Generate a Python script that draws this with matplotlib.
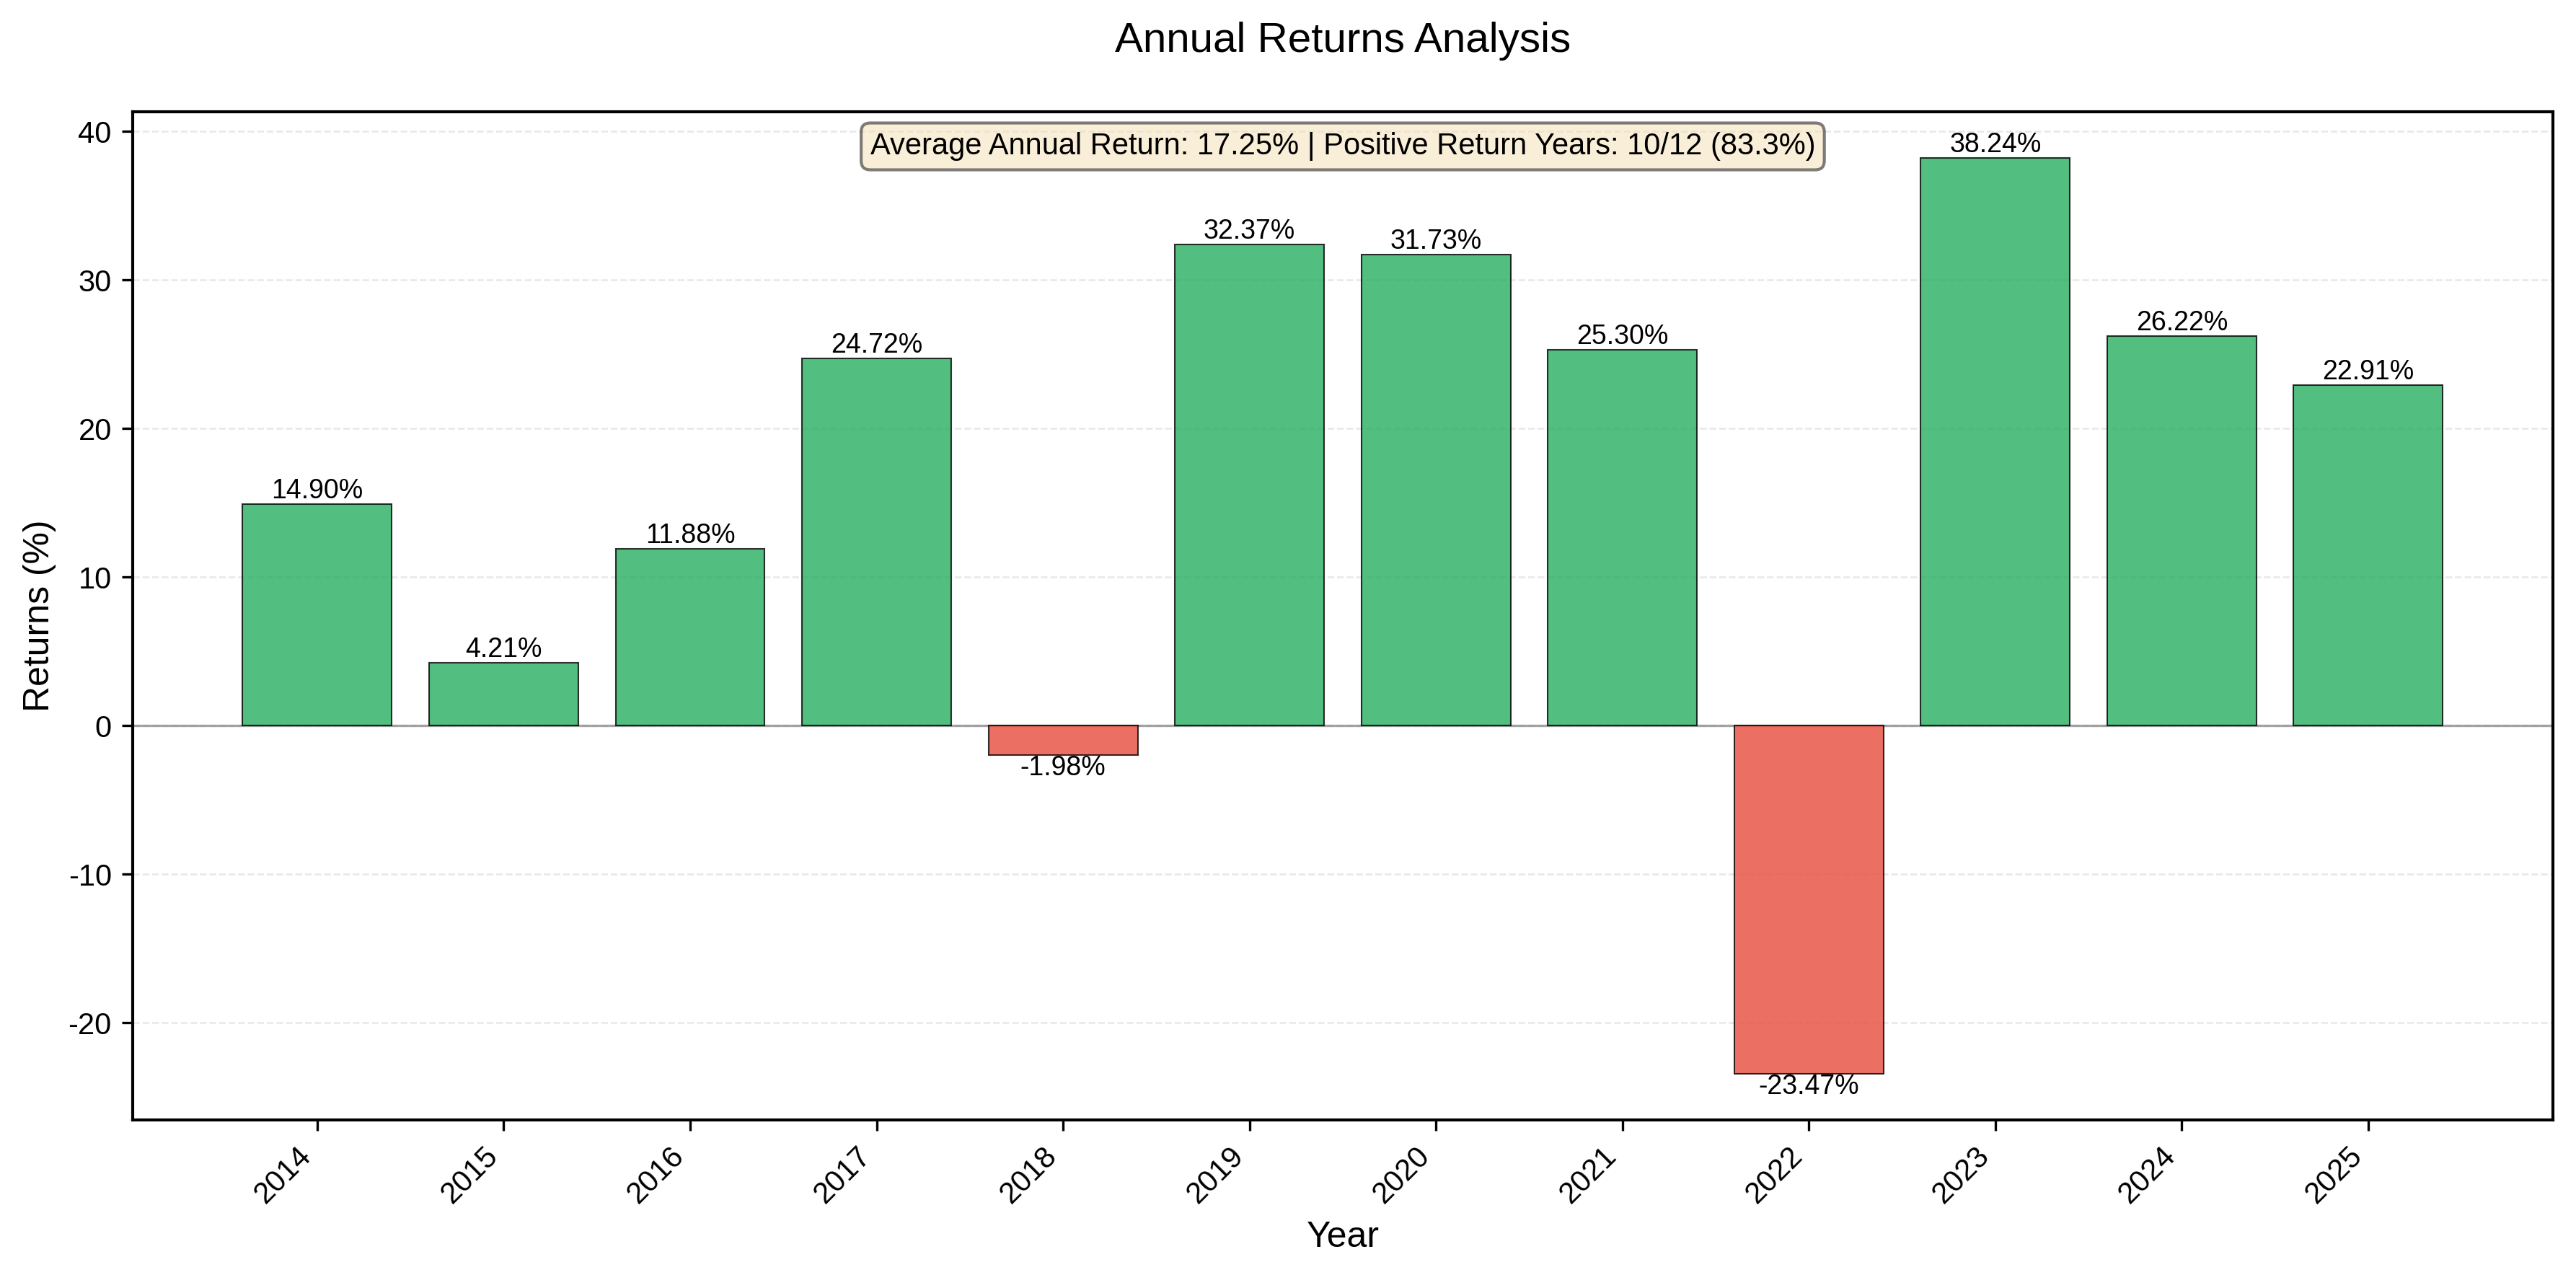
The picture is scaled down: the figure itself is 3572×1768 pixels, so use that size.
import matplotlib
matplotlib.use("Agg")
import matplotlib.pyplot as plt

plt.rcParams["font.family"] = ["Liberation Sans", "DejaVu Sans"]
plt.rcParams["axes.unicode_minus"] = False

years = ["2014", "2015", "2016", "2017", "2018", "2019",
         "2020", "2021", "2022", "2023", "2024", "2025"]
returns = [14.90, 4.21, 11.88, 24.72, -1.98, 32.37,
           31.73, 25.30, -23.47, 38.24, 26.22, 22.91]

avg = sum(returns) / len(returns)
n_pos = sum(1 for r in returns if r > 0)

fig = plt.figure(figsize=(3572 / 300, 1768 / 300), dpi=300)
ax = fig.add_axes([0.0515, 0.1216, 0.9395, 0.7907])

x = list(range(len(years)))
colors = ["#27ae60" if r >= 0 else "#e74c3c" for r in returns]
bars = ax.bar(x, returns, width=0.8, color=colors, alpha=0.8,
              edgecolor="black", linewidth=0.5, zorder=3)

for b, r in zip(bars, returns):
    cx = b.get_x() + b.get_width() / 2
    va = "bottom" if r >= 0 else "top"
    ax.text(cx, r, f"{r:.2f}%", ha="center", va=va, fontsize=9, zorder=4)

ax.axhline(0, color="gray", linewidth=0.8, alpha=0.7, zorder=2)
ax.grid(axis="y", linestyle="--", alpha=0.3, linewidth=0.6, zorder=0)
ax.set_axisbelow(True)

ax.set_xticks(x)
ax.set_xticklabels(years, rotation=45, ha="right", fontsize=10)
ax.tick_params(axis="y", labelsize=10)

ax.set_xlabel("Year", fontsize=12)
ax.set_ylabel("Returns (%)", fontsize=12)
ax.set_title("Annual Returns Analysis", fontsize=14, pad=20)

ax.text(0.5, 0.98,
        f"Average Annual Return: {avg:.2f}% | Positive Return Years: "
        f"{n_pos}/{len(returns)} ({n_pos / len(returns) * 100:.1f}%)",
        transform=ax.transAxes, ha="center", va="top", fontsize=10,
        bbox=dict(boxstyle="round", facecolor="wheat", alpha=0.5))

for s in ax.spines.values():
    s.set_color("black")
    s.set_linewidth(1.0)

fig.savefig("out.png", dpi=300)
plt.close(fig)
